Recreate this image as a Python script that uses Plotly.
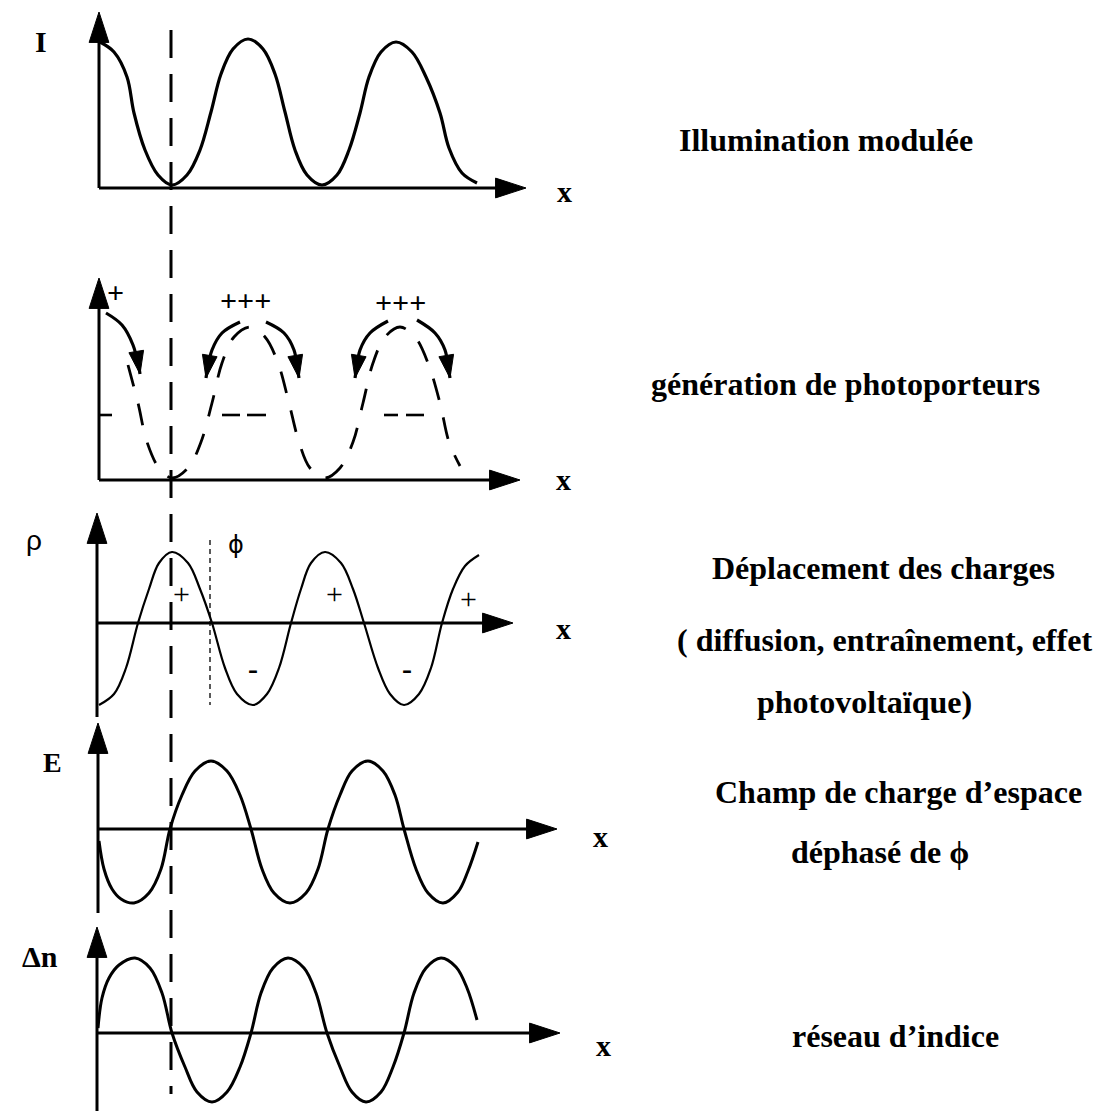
import plotly.graph_objects as go

W = H = 1111
OFF = 8  # page body margin of the exported html

# ---------------- data ----------------
# x in horizontal picture units, y relative to each panel's x-axis (up = positive)

# Panel 1 : modulated illumination I(x)
I_x = [100, 114, 127, 134, 145, 158, 172, 187, 200, 211, 221, 233, 248, 263, 275, 285, 295, 307, 322,
       337, 349, 360, 369, 381, 396, 412, 426, 440, 449, 462, 477]
I_y = [146, 136, 111, 75, 38, 13, 3, 13, 38, 76, 114, 139, 149, 139, 114, 76, 38, 13, 3,
       13, 38, 75, 111, 136, 146, 136, 111, 75, 40, 15, 5]

# Panel 2 : photocarrier generation (dashed copy of the illumination)
G_x = [128, 138, 147, 159, 172, 188, 201, 212, 222, 234, 250, 265, 278, 289, 299, 310, 325,
       340, 353, 363, 373, 385, 400, 415, 428, 440, 449, 460]
G_y = [115, 77, 38, 12, 2, 12, 38, 77, 117, 143, 153, 143, 117, 77, 38, 12, 2,
       12, 38, 77, 117, 143, 153, 143, 117, 77, 38, 14]
G_level = 65
G_level_segments = [(99, 112), (222, 240), (247, 266), (384, 398), (406, 424)]
# curved diffusion arrows near the maxima
G_arrows = [
    ([106, 122, 133, 139, 140], [167, 155, 135, 112, 106]),
    ([240, 222, 212, 207, 206], [158, 147, 130, 108, 102]),
    ([266, 284, 294, 298, 299], [158, 147, 130, 108, 102]),
    ([388, 370, 360, 356, 355], [159, 147, 130, 108, 102]),
    ([417, 435, 445, 449, 450], [160, 147, 130, 108, 102]),
]
G_plus = [("+", 115, 188), ("+++", 245, 180), ("+++", 400, 178)]

# Panel 3 : charge density rho(x)
R_x = [99, 114, 126, 138, 149, 159, 172, 188, 200, 212, 225, 237, 253, 267, 279, 291, 301, 311, 325,
       341, 353, 364, 378, 390, 404, 419, 431, 442, 453, 465, 479]
R_y = [-82, -71, -45, 0, 34, 60, 71, 60, 34, 0, -45, -71, -82, -71, -45, 0, 34, 60, 71,
       60, 34, 0, -45, -71, -82, -71, -45, 0, 34, 57, 68]
R_signs = [("+", 181, 30), ("+", 334, 30), ("+", 468, 25), ("-", 253, -45), ("-", 407, -45)]
phi_x = 210

# Panel 4 : space-charge field E(x)
E_x = [99, 104, 112, 121, 134, 149, 161, 170, 182, 195, 211, 227, 240, 251, 262, 274, 290,
       306, 318, 328, 340, 352, 368, 383, 395, 404, 416, 428, 443, 458, 468, 478]
E_y = [-12, -40, -60, -70, -74, -64, -40, 0, 34, 58, 68, 58, 34, 0, -40, -64, -74,
       -64, -40, 0, 34, 58, 68, 58, 34, 0, -40, -64, -74, -63, -42, -13]

# Panel 5 : index grating dn(x)
N_x = [98, 102, 109, 119, 135, 150, 162, 172, 185, 197, 212, 227, 240, 251, 261, 273, 288,
       304, 316, 327, 340, 352, 366, 381, 393, 404, 414, 426, 441, 456, 467, 477]
N_y = [5, 35, 55, 68, 75, 65, 40, 0, -34, -59, -69, -59, -34, 0, 40, 65, 75,
       65, 40, 0, -34, -59, -69, -59, -34, 0, 40, 65, 75, 66, 45, 13]

ref_line_x = 171

right_texts = [
    "Illumination modulée",
    "génération de photoporteurs",
    "Déplacement des charges",
    "( diffusion, entraînement, effet",
    "photovoltaïque)",
    "Champ de charge d’espace",
    "déphasé de ϕ",
    "réseau d’indice",
]

# ---------------- layout geometry (page pixels) ----------------
# panel: (top, bottom, baseline)
panels = {1: (8, 230, 188), 2: (230, 500, 480), 3: (500, 720, 623), 4: (720, 920, 829), 5: (920, 1111, 1033)}
# axis geometry: (y-axis x, y-axis bottom, y-axis tip, x-axis tip)
axes_geo = {1: (99, 0, 176, 526), 2: (99, 0, 202, 520), 3: (97, -94, 110, 513),
            4: (98, -84, 106, 557), 5: (97, -78, 106, 560)}

fig = go.Figure()
BLACK = "black"
SERIF = "Liberation Serif, DejaVu Serif, serif"


def yref(k):
    return "y" if k == 1 else f"y{k}"


def add(trace, k):
    trace.update(xaxis="x", yaxis=yref(k), hoverinfo="skip")
    fig.add_trace(trace)


def py(ypx):
    return 1 - (ypx - OFF) / H


# axes with arrow heads
for k, (ax, yb, yt, xt) in axes_geo.items():
    for xs, ys in (([ax, ax], [yb, yt]), ([ax, xt], [0, 0])):
        add(go.Scatter(x=xs, y=ys, mode="lines+markers",
                       line=dict(color=BLACK, width=3),
                       marker=dict(symbol="arrow", angleref="previous", size=[0, 32], color=BLACK,
                                   opacity=1, line=dict(width=1, color=BLACK))), k)

# curves
spl = dict(color=BLACK, shape="spline", smoothing=1.0)
add(go.Scatter(x=I_x, y=I_y, mode="lines", line=dict(width=3.2, **spl)), 1)
add(go.Scatter(x=G_x, y=G_y, mode="lines", line=dict(width=2.8, dash="22px,18px", **spl)), 2)
add(go.Scatter(x=R_x, y=R_y, mode="lines", line=dict(width=2.2, **spl)), 3)
add(go.Scatter(x=E_x, y=E_y, mode="lines", line=dict(width=3, **spl)), 4)
add(go.Scatter(x=N_x, y=N_y, mode="lines", line=dict(width=3, **spl)), 5)

# generation: level dashes
lx, ly = [], []
for a, b in G_level_segments:
    lx += [a, b, None]
    ly += [G_level, G_level, None]
add(go.Scatter(x=lx, y=ly, mode="lines", line=dict(color=BLACK, width=2.6)), 2)

# generation: curved arrows
for ax_, ay_ in G_arrows:
    add(go.Scatter(x=ax_, y=ay_, mode="lines+markers",
                   line=dict(color=BLACK, width=3.2, shape="spline"),
                   marker=dict(symbol="arrow", angleref="previous",
                               size=[0] * (len(ax_) - 1) + [24], color=BLACK, opacity=1,
                               line=dict(width=1, color=BLACK))), 2)

annotations = []


def note(text, x, y, yr, font):
    annotations.append(dict(x=x, y=y, xref="x", yref=yr, text=text, showarrow=False,
                            xanchor="center", yanchor="middle", font=font))


for s, x, y in G_plus:
    note(f"<b>{s}</b>", x, y, "y2", dict(family=SERIF, size=30, color=BLACK))
for s, x, y in R_signs:
    note(f"<b>{s}</b>" if s == "-" else s, x, y, "y3",
         dict(family=SERIF, size=30, color=BLACK))

# phase shift marker
fig.add_shape(type="line", xref="x", yref="y3", x0=phi_x, x1=phi_x, y0=83, y1=-82,
              line=dict(color=BLACK, width=1.3, dash="5px,4px"))
note("ϕ", 236, 78, "y3", dict(family="DejaVu Sans, sans-serif", size=24, color=BLACK))

# reference dashed line across all panels
fig.add_shape(type="line", xref="x", yref="paper", x0=ref_line_x, x1=ref_line_x,
              y0=py(30), y1=py(1094), line=dict(color=BLACK, width=3, dash="28px,16px"))

# axis name labels
for text, x, ypx, fam, size in [("<b>I</b>", 41, 41, SERIF, 30),
                                ("ρ", 34, 540, "Liberation Sans, Arial, sans-serif", 28),
                                ("<b>E</b>", 52, 762, SERIF, 28),
                                ("<b>Δn</b>", 40, 956, SERIF, 30)]:
    note(text, x, py(ypx), "paper", dict(family=fam, size=size, color=BLACK))

# x labels
for x, ypx in [(564, 191), (563, 479), (563, 628), (600, 836), (603, 1045)]:
    note("<b>x</b>", x, py(ypx), "paper", dict(family=SERIF, size=30, color=BLACK))

# right-hand descriptions
for text, x, ypx in zip(right_texts, [826, 845, 883, 884, 864, 898, 880, 895],
                        [140, 384, 568, 640, 702, 792, 852, 1036]):
    note(f"<b>{text}</b>", x, py(ypx), "paper", dict(family=SERIF, size=32, color=BLACK))

layout = dict(
    width=W, height=H, margin=dict(l=0, r=0, t=0, b=0, autoexpand=False),
    paper_bgcolor="white", plot_bgcolor="white", showlegend=False,
    xaxis=dict(range=[OFF, W + OFF], domain=[0, 1], visible=False, fixedrange=True),
    annotations=annotations,
)
for k, (top, bot, base) in panels.items():
    name = "yaxis" if k == 1 else f"yaxis{k}"
    tf, bf = max(top - OFF, 0), min(bot - OFF, H)
    layout[name] = dict(domain=[1 - bf / H, 1 - tf / H], range=[-(bf + OFF - base), base - (tf + OFF)],
                        visible=False, anchor="x", fixedrange=True)
fig.update_layout(**layout)

fig.write_html("out.html")
